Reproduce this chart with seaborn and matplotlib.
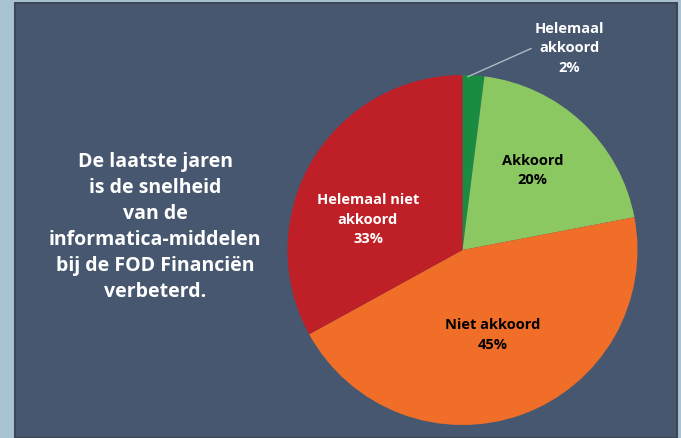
import matplotlib
matplotlib.use("Agg")
import matplotlib.pyplot as plt
import seaborn as sns
from matplotlib.patches import Rectangle

labels = ["Helemaal\nakkoord", "Akkoord", "Niet akkoord", "Helemaal niet\nakkoord"]
values = [2, 20, 45, 33]
colors = ["#198c42", "#8cc862", "#f06e28", "#bf1f26"]
text_colors = ["white", "black", "black", "white"]
title = "De laatste jaren\nis de snelheid\nvan de\ninformatica-middelen\nbij de FOD Financiën\nverbeterd."

sns.set_style("white")
plt.rcParams["font.family"] = ["Open Sans", "DejaVu Sans"]

W, H = 681, 439
fig = plt.figure(figsize=(W / 100, H / 100), dpi=100, facecolor="#a7c3d3")

# dark panel, behind the pie axes
fig.patches.append(Rectangle((15 / W, 0), 662 / W, 1 - 4 / H, transform=fig.transFigure,
                             facecolor="#475770", edgecolor="#3e4655", linewidth=1.5,
                             zorder=-5))

fig.text(155 / W, 1 - 227 / H, title, ha="center", va="center", color="white",
         fontsize=14, fontweight="bold", linespacing=1.4)

cx, cy, r = 462.5, 251, 175
ax = fig.add_axes([(cx - r) / W, 1 - (cy + r) / H, 2 * r / W, 2 * r / H])
ax.patch.set_visible(False)
wedges, _ = ax.pie(values, colors=colors, startangle=90, counterclock=False,
                   wedgeprops=dict(linewidth=0))
ax.set_xlim(-1, 1)
ax.set_ylim(-1, 1)
ax.set_aspect("equal")
ax.axis("off")

# labels inside slices (axes data coords, radius 1)
pos = [None, (0.40, 0.46), (0.17, -0.48), (-0.54, 0.18)]
for i in range(1, 4):
    ax.text(pos[i][0], pos[i][1], f"{labels[i]}\n{values[i]}%", ha="center", va="center",
            color=text_colors[i], fontsize=10.5, fontweight="bold", linespacing=1.5,
            clip_on=False)

# outside label for small slice with leader line
ax.annotate(f"{labels[0]}\n{values[0]}%", xy=(0.03, 0.99), xytext=(0.61, 1.16),
            ha="center", va="center", color="white", fontsize=10.5, fontweight="bold",
            linespacing=1.5, annotation_clip=False,
            arrowprops=dict(arrowstyle="-", color="#b0b8c4", lw=1,
                            shrinkA=0, shrinkB=0, relpos=(0.0, 0.5)))

fig.savefig("out.png", dpi=100, facecolor=fig.get_facecolor())
